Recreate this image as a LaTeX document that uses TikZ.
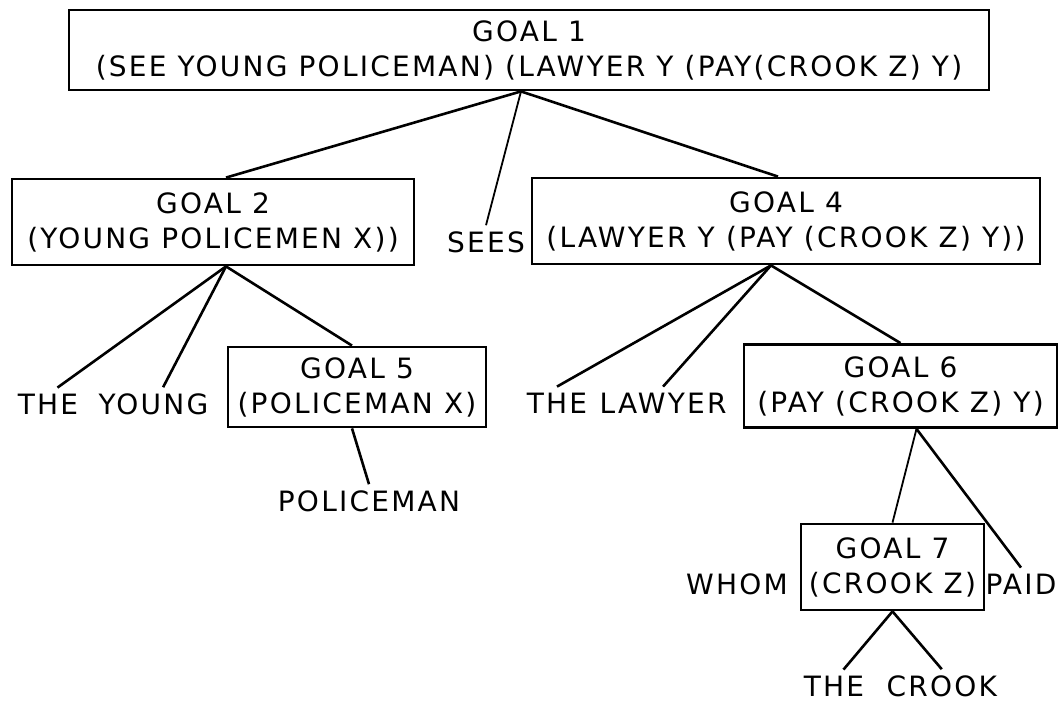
\documentclass[tikz,border=0pt]{standalone}
\usepackage{fontspec}
\setmainfont[LetterSpace=8]{DejaVu Sans}
\usetikzlibrary{positioning}

\begin{document}
\begin{tikzpicture}[
  x=1pt, y=-1pt,
  font=\fontsize{28}{35}\selectfont,
  goal/.style={draw, line width=2.8pt, align=center, inner sep=0pt},
  word/.style={inner xsep=2pt, inner ysep=6pt},
  link/.style={line width=2.6pt},
  thin link/.style={line width=1.8pt}
]
  \useasboundingbox[fill=white] (0,0) rectangle (1058,704);

  % goals
  \node[goal, minimum width=920pt, minimum height=80pt] (g1) at (529,50)
    {GOAL 1\\(SEE YOUNG POLICEMAN) (LAWYER Y (PAY(CROOK Z) Y)};
  \node[goal, minimum width=402pt, minimum height=86pt] (g2) at (213,222)
    {GOAL 2\\(YOUNG POLICEMEN X))};
  \node[goal, minimum width=508pt, minimum height=86pt] (g4) at (786,221)
    {GOAL 4\\(LAWYER Y (PAY (CROOK Z) Y))};
  \node[goal, minimum width=258pt, minimum height=80pt] (g5) at (357,387)
    {GOAL 5\\(POLICEMAN X)};
  \node[goal, minimum width=313pt, minimum height=83pt] (g6) at (900.5,386)
    {GOAL 6\\(PAY (CROOK Z) Y)};
  \node[goal, minimum width=183pt, minimum height=86pt] (g7) at (892.5,567)
    {GOAL 7\\(CROOK Z)};

  % words
  \node[word] (sees) at (486,242) {SEES};
  \node[word] (the1) at (48,404) {THE};
  \node[word, right=16pt of the1] (young) {YOUNG};
  \node[word] (police) at (369,501) {POLICEMAN};
  \node[word] (the2) at (557,403) {THE};
  \node[word, right=8pt of the2] (lawyer) {LAWYER};
  \node[word] (whom) at (737,584) {WHOM};
  \node[word] (paid) at (1021,584) {PAID};
  \node[word] (the3) at (834,686) {THE};
  \node[word, right=18pt of the3] (crook) {CROOK};

  % links
  \draw[link] ([xshift=-8pt]g1.south) -- ([xshift=13pt]g2.north);
  \draw[thin link] ([xshift=-8pt]g1.south) -- (sees.north);
  \draw[link] ([xshift=-8pt]g1.south) -- ([xshift=-8pt]g4.north);

  \draw[link] ([xshift=13pt]g2.south) -- (the1.60);
  \draw[link] ([xshift=13pt]g2.south) -- (young.60);
  \draw[link] ([xshift=13pt]g2.south) -- ([xshift=-5pt]g5.north);
  \draw[link] ([xshift=-5pt]g5.south) -- (police.north);

  \draw[link] ([xshift=-15pt]g4.south) -- (the2.north);
  \draw[link] ([xshift=-15pt]g4.south) -- (lawyer.north);
  \draw[link] ([xshift=-15pt]g4.south) -- (g6.north);

  \draw[thin link] ([xshift=16pt]g6.south) -- (g7.north);
  \draw[link] ([xshift=16pt]g6.south) -- (paid.north);
  \draw[link] (g7.south) -- (the3.60);
  \draw[link] (g7.south) -- (crook.north);
\end{tikzpicture}
\end{document}
